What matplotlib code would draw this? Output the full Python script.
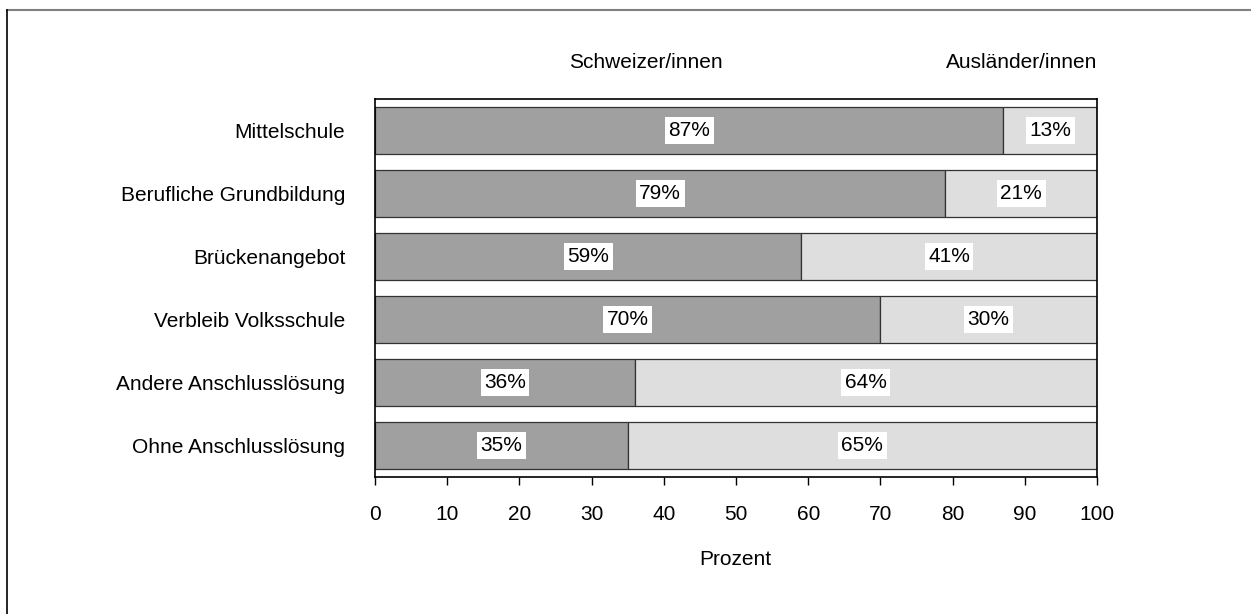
import matplotlib.pyplot as plt
from matplotlib.lines import Line2D

plt.rcParams['font.family'] = ['Liberation Sans', 'DejaVu Sans']

# Anteile nach Staatsangehörigkeit, Prozent
kategorien = ['Mittelschule', 'Berufliche Grundbildung', 'Brückenangebot',
              'Verbleib Volksschule', 'Andere Anschlusslösung', 'Ohne Anschlusslösung']
schweizer = [87, 79, 59, 70, 36, 35]
auslaender = [13, 21, 41, 30, 64, 65]

fig = plt.figure(figsize=(12.51, 6.14), dpi=100)
ax = fig.add_axes([0.2998, 0.2231, 0.5771, 0.6156])

y = list(range(len(kategorien)))
dunkel = '#a0a0a0'
hell = '#dedede'
ax.barh(y, schweizer, height=0.74, color=dunkel, edgecolor='#333333', linewidth=0.9)
ax.barh(y, auslaender, left=schweizer, height=0.74, color=hell, edgecolor='#333333', linewidth=0.9)

box = dict(facecolor='white', edgecolor='none', pad=2.5)
for i in y:
    ax.text(schweizer[i] / 2, i, f'{schweizer[i]}%', ha='center', va='center',
            fontsize=15, bbox=box)
    ax.text(schweizer[i] + auslaender[i] / 2, i, f'{auslaender[i]}%', ha='center',
            va='center', fontsize=15, bbox=box)

ax.set_xlim(0, 100)
ax.set_ylim(5.5, -0.5)
ax.set_xticks(range(0, 101, 10))
ax.set_yticks(y)
ax.set_yticklabels(kategorien)
ax.tick_params(axis='x', direction='out', length=6, width=1, pad=14, labelsize=15)
ax.tick_params(axis='y', length=0, pad=21.5, labelsize=15)
for s in ax.spines.values():
    s.set_linewidth(1.2)

fig.text(0.516, 0.898, 'Schweizer/innen', ha='center', va='center', fontsize=15)
fig.text(0.8769, 0.898, 'Ausländer/innen', ha='right', va='center', fontsize=15)
fig.text(0.588, 0.088, 'Prozent', ha='center', va='center', fontsize=15)

# Rahmen oben und links
fig.add_artist(Line2D([0.0056, 1.0], [0.9837, 0.9837], color='#808080', linewidth=1.5,
                      transform=fig.transFigure))
fig.add_artist(Line2D([0.0056, 0.0056], [0.0, 0.9837], color='black', linewidth=1.2,
                      transform=fig.transFigure))

fig.savefig('out.png', dpi=100)
